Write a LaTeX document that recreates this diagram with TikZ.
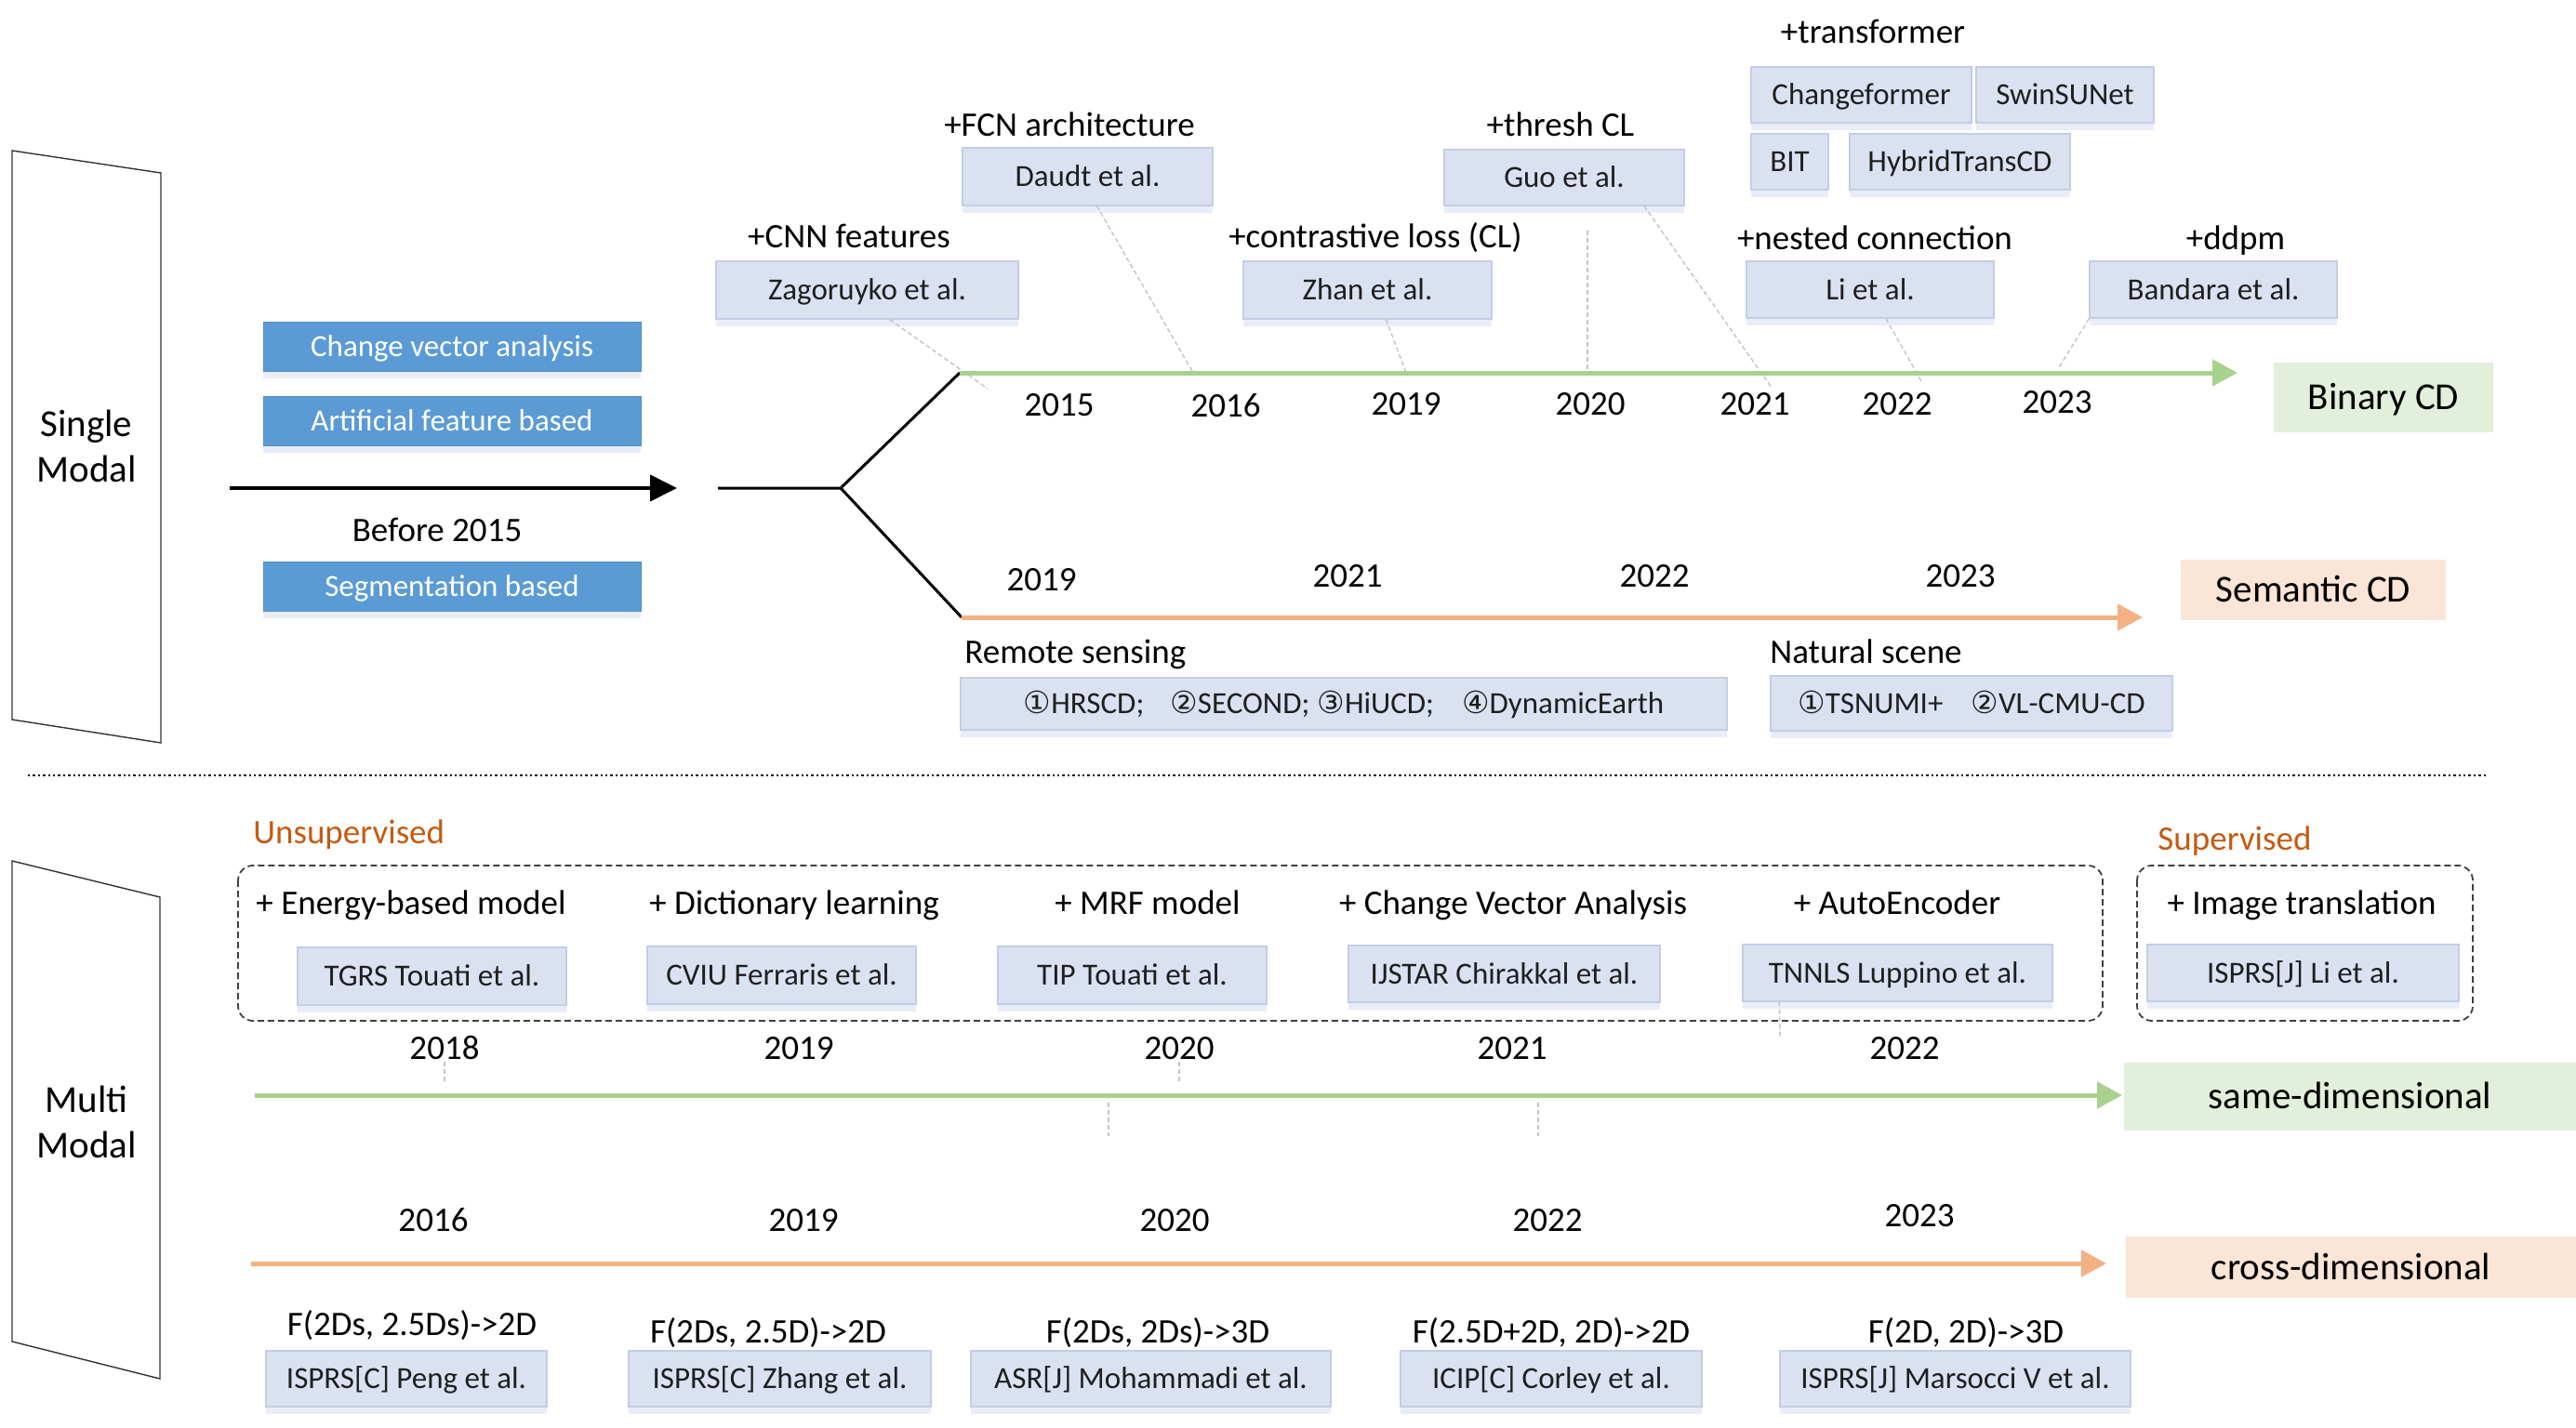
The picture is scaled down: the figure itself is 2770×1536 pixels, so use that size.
\documentclass[tikz,border=0pt]{standalone}
\usepackage{fontspec}
\setmainfont{Carlito}
\newfontfamily\symf[Scale=1.0]{DejaVu Sans}
\usetikzlibrary{arrows.meta,shadows,calc}

\definecolor{boxfill}{HTML}{DAE2F2}
\definecolor{boxedge}{HTML}{C3CDE3}
\definecolor{boxshadow}{HTML}{E8EDF7}
\definecolor{bluefill}{HTML}{5B9BD5}
\definecolor{gline}{HTML}{A9D18E}
\definecolor{oline}{HTML}{F4B183}
\definecolor{gfill}{HTML}{E2EFDA}
\definecolor{ofill}{HTML}{FBE5D6}
\definecolor{unsup}{HTML}{C55A11}
\definecolor{conncol}{HTML}{C4C4C4}
\definecolor{dashcol}{HTML}{404040}

\newcommand\szL{\fontsize{20.5}{24.7}\selectfont}
\newcommand\szM{\fontsize{18.5}{22}\selectfont}
\newcommand\szS{\fontsize{16.5}{20}\selectfont}

\tikzset{
  sz/.style 2 args={minimum width=#1*0.5pt, minimum height=#2*0.5pt, inner sep=0pt},
  gbox/.style={draw=boxedge, line width=0.6pt, fill=boxfill, font=\szS, text=black!88,
    text height=10.6pt, text depth=0pt,
    drop shadow={shadow xshift=0pt, shadow yshift=-4pt, fill=boxshadow, opacity=1}},
  bbox/.style={draw=bluefill!92!black, line width=0.4pt, fill=bluefill, font=\szS, text=white,
    text height=10.6pt, text depth=0pt,
    drop shadow={shadow xshift=0pt, shadow yshift=-4pt, fill=boxshadow, opacity=1}},
  cbox/.style={font=\szL, text height=13.2pt, text depth=0pt, inner sep=0pt},
  lab/.style={font=\szM, text height=11.9pt, text depth=0pt, inner sep=0pt},
  big/.style={font=\szL, inner sep=0pt, align=center},
  para/.style={draw=black!80, line width=0.7pt},
  karrow/.style={line width=2pt, -{Triangle[length=14.5pt,width=14pt]}},
  branch/.style={line width=1.5pt, black},
  garrow/.style={line width=2.5pt, gline, -{Triangle[length=13.5pt,width=14pt]}},
  oarrow/.style={line width=2.5pt, oline, -{Triangle[length=13.5pt,width=14pt]}},
  conn/.style={conncol, line width=0.7pt, dash pattern=on 2.5pt off 1.5pt},
  dbox/.style={dashcol, line width=0.9pt, dash pattern=on 3.5pt off 2pt, rounded corners=8pt},
  sep/.style={black, line width=0.9pt, dash pattern=on 1.2pt off 1.5pt}
}

\begin{document}
\begin{tikzpicture}[x=0.5pt,y=-0.5pt]
\useasboundingbox[fill=white] (0,0) rectangle (2770,1536);

% ================= Single modal =================
\draw[para] (13,162) -- (173,186) -- (173,799) -- (13,774) -- cycle;
\node[big] (single) at (93,480) {Single\\Modal};

\node[bbox, sz={406}{53}] (cva) at (486,372.5) {Change vector analysis};
\node[bbox, sz={406}{53}] (afb) at (486,452.5) {Artificial feature based};
\node[lab] (bef) at (470,571) {Before 2015};
\node[bbox, sz={406}{53}] (segb) at (486,630.5) {Segmentation based};

\coordinate (a0) at (247,525);
\coordinate (a1) at (728,525);
\draw[karrow] (a0) -- (a1);

\coordinate (b0) at (772,525);
\coordinate (bj) at (904,525);
\coordinate (gb) at (1032,401);
\coordinate (ob) at (1034,664);
\coordinate (ge) at (2406,401);
\coordinate (oe) at (2304,664);

\node[gbox, sz={325}{62}] (zag) at (932.5,312) {Zagoruyko et al.};
\node[gbox, sz={269}{62}] (daudt) at (1169.5,190) {Daudt et al.};
\node[gbox, sz={267}{62}] (zhan) at (1470.5,312) {Zhan et al.};
\node[gbox, sz={258}{60}] (guo) at (1682,191) {Guo et al.};
\node[gbox, sz={237}{60}] (chf) at (2001.5,102) {Changeformer};
\node[gbox, sz={191}{60}] (swin) at (2220.5,102) {SwinSUNet};
\node[gbox, sz={83}{60}] (bit) at (1924.5,174) {BIT};
\node[gbox, sz={237}{60}] (hyb) at (2107.5,174) {HybridTransCD};
\node[gbox, sz={266}{61}] (li) at (2011,311.5) {Li et al.};
\node[gbox, sz={266}{61}] (band) at (2380,311.5) {Bandara et al.};

\coordinate (cz) at (1062,418);
\coordinate (cd) at (1283,401);
\coordinate (czh) at (1512,401);
\coordinate (cg1) at (1707,401);
\coordinate (cg2) at (1905,417);
\coordinate (cl) at (2066,410);
\coordinate (cb) at (2213,397);
\draw[conn] ($(zag.south)+(24,0)$) -- (cz);
\draw[conn] ($(daudt.south)+(10,0)$) -- (cd);
\draw[conn] ($(zhan.south)+(20,0)$) -- (czh);
\draw[conn] ($(guo.south)+(25,26)$) -- (cg1);
\draw[conn] ($(guo.south)+(86,0)$) -- (cg2);
\draw[conn] ($(li.south)+(17,0)$) -- (cl);
\draw[conn] (band.south west) -- (cb);

\draw[branch] (b0) -- (bj) -- (gb);
\draw[branch] (bj) -- (ob);
\draw[garrow] (gb) -- (ge);
\draw[oarrow] (ob) -- (oe);

\node[lab] (lcnn) at (913,255) {+CNN features};
\node[lab] (lfcn) at (1150,135) {+FCN architecture};
\node[lab] (lcl) at (1479,255) {+contrastive loss (CL)};
\node[lab] (lth) at (1678,135) {+thresh CL};
\node[lab] (ltr) at (2014,35) {+transformer};
\node[lab] (lnest) at (2016,257) {+nested connection};
\node[lab] (lddpm) at (2404,257) {+ddpm};

\node[lab] (y15) at (1139,436) {2015};
\node[lab] (y16) at (1318,437) {2016};
\node[lab] (y19) at (1512,435) {2019};
\node[lab] (y20) at (1710,435) {2020};
\node[lab] (y21) at (1887,435) {2021};
\node[lab] (y22) at (2040,435) {2022};
\node[lab] (y23) at (2212,433) {2023};

\node[cbox, fill=gfill, sz={236}{75}] (bincd) at (2563,427.5) {Binary CD};

\node[lab] (s19) at (1120,624) {2019};
\node[lab] (s21) at (1449,620) {2021};
\node[lab] (s22) at (1779,620) {2022};
\node[lab] (s23) at (2108,620) {2023};
\node[cbox, fill=ofill, sz={285}{65}] (semcd) at (2487.5,634.5) {Semantic CD};

\node[lab, anchor=west] (lrs) at (1037,702) {Remote sensing};
\node[lab, anchor=west] (lns) at (1903,702) {Natural scene};
\node[gbox, sz={824}{56}] (rsbox) at (1445,757)
  {{\symf ①}HRSCD;\hspace{14pt}{\symf ②}SECOND;\hspace{4pt}{\symf ③}HiUCD;\hspace{15pt}{\symf ④}DynamicEarth};
\node[gbox, sz={432}{59}] (nsbox) at (2120,756.5)
  {{\symf ①}TSNUMI+\hspace{15pt}{\symf ②}VL-CMU-CD};

% separator
\coordinate (sp0) at (30,834);
\coordinate (sp1) at (2676,834);
\draw[sep] (sp0) -- (sp1);

% ================= Multi modal =================
\draw[para] (13,926) -- (172,965) -- (172,1483) -- (13,1443) -- cycle;
\node[big] (multi) at (93,1207) {Multi\\Modal};

\node[lab, anchor=west, text=unsup] (lunsup) at (272,896) {Unsupervised};
\node[lab, text=unsup] (lsup) at (2403,903) {Supervised};
\draw[dbox] (256,931) rectangle (2261,1098);
\draw[dbox] (2298,931) rectangle (2659,1098);

\node[lab] (lebm) at (442,972) {+ Energy-based model};
\node[lab] (ldict) at (854,972) {+ Dictionary learning};
\node[lab] (lmrf) at (1234,972) {+ MRF model};
\node[lab] (lcva) at (1627,972) {+ Change Vector Analysis};
\node[lab] (lae) at (2040,972) {+ AutoEncoder};
\node[lab] (limg) at (2475,972) {+ Image translation};

\node[gbox, sz={289}{62}] (tgrs) at (464.5,1050) {TGRS Touati et al.};
\node[gbox, sz={289}{62}] (cviu) at (840.5,1049) {CVIU Ferraris et al.};
\node[gbox, sz={289}{62}] (tip) at (1217.5,1049) {TIP Touati et al.};
\node[gbox, sz={335}{61}] (ijstar) at (1617.5,1047.5) {IJSTAR Chirakkal et al.};
\node[gbox, sz={333}{61}] (tnnls) at (2040.5,1046.5) {TNNLS Luppino et al.};
\node[gbox, sz={335}{61}] (ispli) at (2476.5,1046.5) {ISPRS[J] Li et al.};

\node[lab] (m18) at (478,1128) {2018};
\node[lab] (m19) at (859,1128) {2019};
\node[lab] (m20) at (1268,1128) {2020};
\node[lab] (m21) at (1626,1128) {2021};
\node[lab] (m22) at (2048,1128) {2022};

\coordinate (k1a) at (478,1142); \coordinate (k1b) at (478,1163);
\coordinate (k2a) at (1268,1142); \coordinate (k2b) at (1268,1163);
\coordinate (k3a) at (1192,1186); \coordinate (k3b) at (1192,1222);
\coordinate (k4a) at (1654,1186); \coordinate (k4b) at (1654,1222);
\coordinate (k5) at (1914,1117);
\draw[conn] (k1a) -- (k1b);
\draw[conn] (k2a) -- (k2b);
\draw[conn] (k3a) -- (k3b);
\draw[conn] (k4a) -- (k4b);
\draw[conn] ($(tnnls.south west)+(40,0)$) -- (k5);

\coordinate (sd0) at (274,1178);
\coordinate (sd1) at (2282,1178);
\draw[garrow] (sd0) -- (sd1);
\node[cbox, fill=gfill, sz={486}{73}] (samed) at (2527,1179.5) {same-dimensional};

\node[lab] (c16) at (466,1313) {2016};
\node[lab] (c19) at (864,1313) {2019};
\node[lab] (c20) at (1263,1313) {2020};
\node[lab] (c22) at (1664,1313) {2022};
\node[lab] (c23) at (2064,1308) {2023};

\coordinate (cd0) at (270,1359);
\coordinate (cd1) at (2265,1359);
\draw[oarrow] (cd0) -- (cd1);
\node[cbox, fill=ofill, sz={484}{66}] (crossd) at (2528,1363) {cross-dimensional};

\node[lab] (f1) at (443,1425) {F(2Ds, 2.5Ds)->2D};
\node[lab] (f2) at (826,1433) {F(2Ds, 2.5D)->2D};
\node[lab] (f3) at (1245,1433) {F(2Ds, 2Ds)->3D};
\node[lab] (f4) at (1668,1433) {F(2.5D+2D, 2D)->2D};
\node[lab] (f5) at (2114,1433) {F(2D, 2D)->3D};

\node[gbox, sz={302}{60}] (peng) at (437,1483) {ISPRS[C] Peng et al.};
\node[gbox, sz={325}{60}] (zhang) at (838.5,1483) {ISPRS[C] Zhang et al.};
\node[gbox, sz={387}{60}] (moham) at (1237.5,1483) {ASR[J] Mohammadi et al.};
\node[gbox, sz={324}{60}] (corley) at (1668,1483) {ICIP[C] Corley et al.};
\node[gbox, sz={377}{60}] (mars) at (2102.5,1483) {ISPRS[J] Marsocci V et al.};
\end{tikzpicture}
\end{document}
